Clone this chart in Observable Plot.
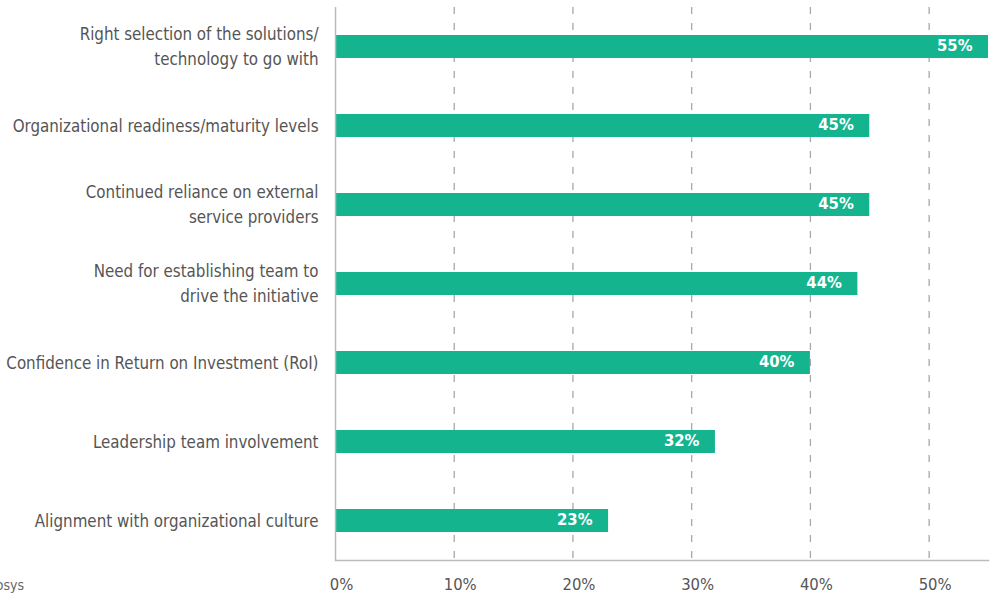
<!DOCTYPE html>
<html>
<head>
<meta charset="utf-8">
<script src="https://cdn.jsdelivr.net/npm/d3@7"></script>
<script src="https://cdn.jsdelivr.net/npm/@observablehq/plot@0.6"></script>
<style>
  html, body { margin: 0; padding: 0; background: #fff; }
  #wrap { position: relative; width: 993px; height: 600px; overflow: hidden; }
  #src { position: absolute; left: 0; top: 577px; width: 24px; overflow: hidden; display: flex; justify-content: flex-end; white-space: nowrap;
         font-family: "DejaVu Sans Condensed", sans-serif; font-size: 14px; color: #666; }
</style>
</head>
<body>
<div id="wrap"><div id="chart"></div><div id="src"><span>Source: Infosys</span></div></div>
<script>
const categories = [
  "Right selection of the solutions/\ntechnology to go with",
  "Organizational readiness/maturity levels",
  "Continued reliance on external\nservice providers",
  "Need for establishing team to\ndrive the initiative",
  "Confidence in Return on Investment (RoI)",
  "Leadership team involvement",
  "Alignment with organizational culture"
];
const values = [55, 45, 45, 44, 40, 32, 23];
const xTicks = [0, 10, 20, 30, 40, 50];

const data = categories.map((c, i) => ({category: c, value: values[i]}));
const font = "'DejaVu Sans Condensed', sans-serif";

const chart = Plot.plot({
  width: 993,
  height: 600,
  marginTop: 7,
  marginBottom: 40,
  marginLeft: 335,
  marginRight: 5,
  style: {fontFamily: font, background: "#fff"},
  x: {domain: [0, 55], label: null},
  y: {domain: categories, paddingInner: 0.71, paddingOuter: 0.354, label: null},
  marks: [
    Plot.ruleX(xTicks.filter(d => d > 0), {stroke: "#a8a8a8", strokeWidth: 1.3, strokeDasharray: "7,9"}),
    Plot.barX(data, {y: "category", x: "value", fill: "#14b48f"}),
    Plot.ruleX([0], {stroke: "#bbbbbb", strokeWidth: 1.5}),
    Plot.frame({anchor: "bottom", stroke: "#bbbbbb", strokeWidth: 1.5}),
    Plot.text(data, {y: "category", x: "value", text: d => d.value + "%", textAnchor: "end", dx: -16, dy: -1, fill: "white", fontWeight: "bold", fontSize: 16.5}),
    Plot.axisX({ticks: xTicks, tickFormat: d => d + "%", tickSize: 0, tickPadding: 18, fontSize: 16.5, fill: "#555", dx: 6, label: null}),
    Plot.axisY({tickSize: 0, tickPadding: 17, fontSize: 16.8, fill: "#555", lineHeight: 1.5, dy: -2.5, label: null})
  ]
});
document.getElementById("chart").appendChild(chart);
</script>
</body>
</html>
